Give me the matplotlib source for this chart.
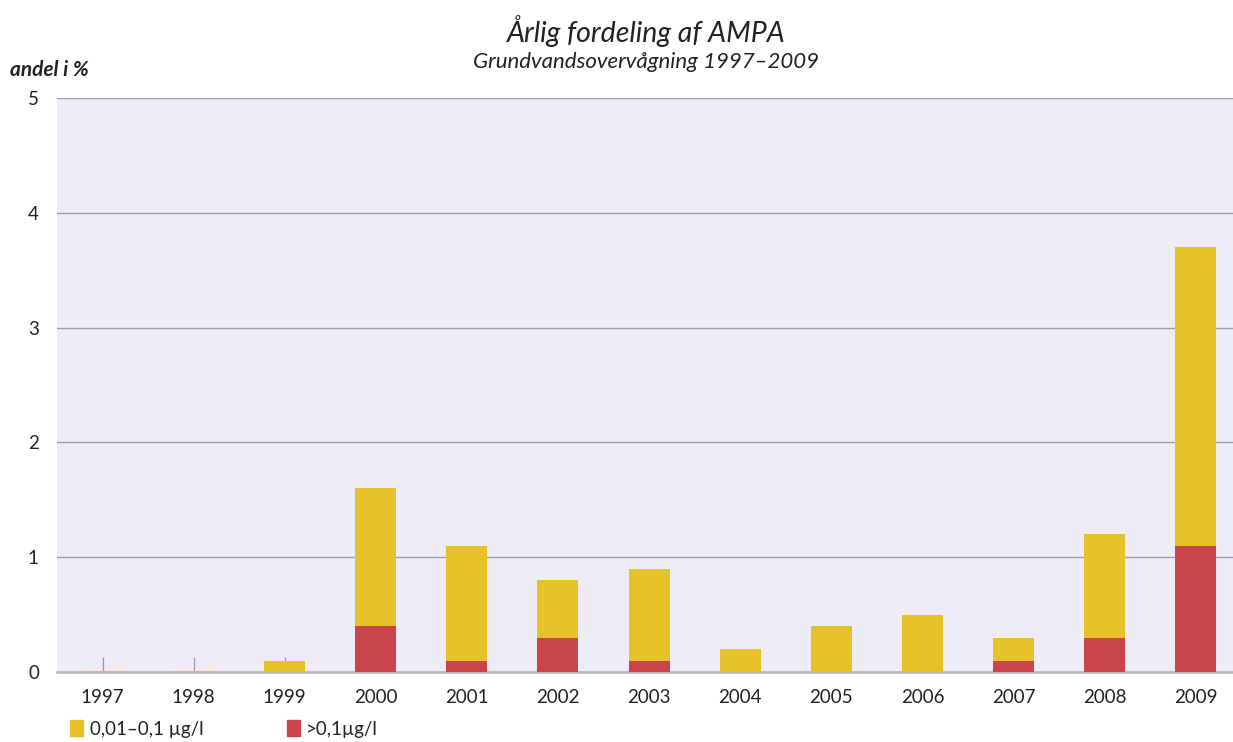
import matplotlib
matplotlib.use("Agg")
import matplotlib.pyplot as plt
from matplotlib.patches import Rectangle
import numpy as np

plt.rcParams['font.family'] = ['Lato', 'DejaVu Sans']

years = ['1997', '1998', '1999', '2000', '2001', '2002', '2003',
         '2004', '2005', '2006', '2007', '2008', '2009']
# share above 0.1 µg/l (red) and share between 0.01 and 0.1 µg/l (yellow), in %
over_01 = [0.0, 0.0, 0.0, 0.4, 0.1, 0.3, 0.1, 0.0, 0.0, 0.0, 0.1, 0.3, 1.1]
low_range = [0.01, 0.01, 0.1, 1.2, 1.0, 0.5, 0.8, 0.2, 0.4, 0.5, 0.2, 0.9, 2.6]
y_ticks = [0, 1, 2, 3, 4, 5]

yellow = '#E6C229'
red = '#C9444B'
bg = '#EEECF6'
grid_c = '#A09FAA'
text_c = '#222222'

fig = plt.figure(figsize=(12.33, 7.42), dpi=100)
ax = fig.add_axes([0.0462, 0.0943, 0.9538, 0.7736])
ax.set_facecolor(bg)

x = np.arange(len(years))
w = 0.45
ax.bar(x, over_01, width=w, color=red, zorder=3, linewidth=0)
ax.bar(x, low_range, width=w, bottom=over_01, color=yellow, zorder=3, linewidth=0)

ax.set_xlim(-0.5, 12.41)
ax.set_ylim(0, 5)
ax.set_axisbelow(True)
ax.set_yticks(y_ticks)
ax.set_yticklabels([str(t) for t in y_ticks])
ax.yaxis.grid(True, color=grid_c, linewidth=1.0)
ax.set_xticks(x)
ax.set_xticklabels(years)

for s in ['top', 'right', 'left']:
    ax.spines[s].set_visible(False)
ax.spines['bottom'].set_color('#B6B5BF')
ax.spines['bottom'].set_linewidth(1.8)

ax.tick_params(axis='y', length=0, pad=13, labelsize=13.5, labelcolor=text_c)
ax.tick_params(axis='x', direction='in', length=10.5, width=0.9, color='#9C9BA5',
               pad=12, labelsize=13.5, labelcolor=text_c)

fig.text(0.524, 0.958, 'Årlig fordeling af AMPA', ha='center', va='center',
         fontsize=20.5, style='italic', color=text_c)
fig.text(0.524, 0.916, 'Grundvandsovervågning 1997–2009', ha='center', va='center',
         fontsize=16, style='italic', color=text_c)
fig.text(0.008, 0.906, 'andel i %', ha='left', va='center',
         fontsize=15, style='italic', fontweight='bold', color=text_c)

# legend
sq = 13 / 1233
sq_h = 16 / 742
fig.patches.append(Rectangle((70 / 1233, 1 - 736 / 742), sq, sq_h,
                             transform=fig.transFigure, color=yellow, figure=fig))
fig.text(90 / 1233, 1 - 729 / 742, '0,01–0,1 µg/l', ha='left', va='center',
         fontsize=13.5, color=text_c)
fig.patches.append(Rectangle((287 / 1233, 1 - 736 / 742), sq, sq_h,
                             transform=fig.transFigure, color=red, figure=fig))
fig.text(306 / 1233, 1 - 729 / 742, '>0,1µg/l', ha='left', va='center',
         fontsize=13.5, color=text_c)

fig.savefig('out.png', dpi=100)
